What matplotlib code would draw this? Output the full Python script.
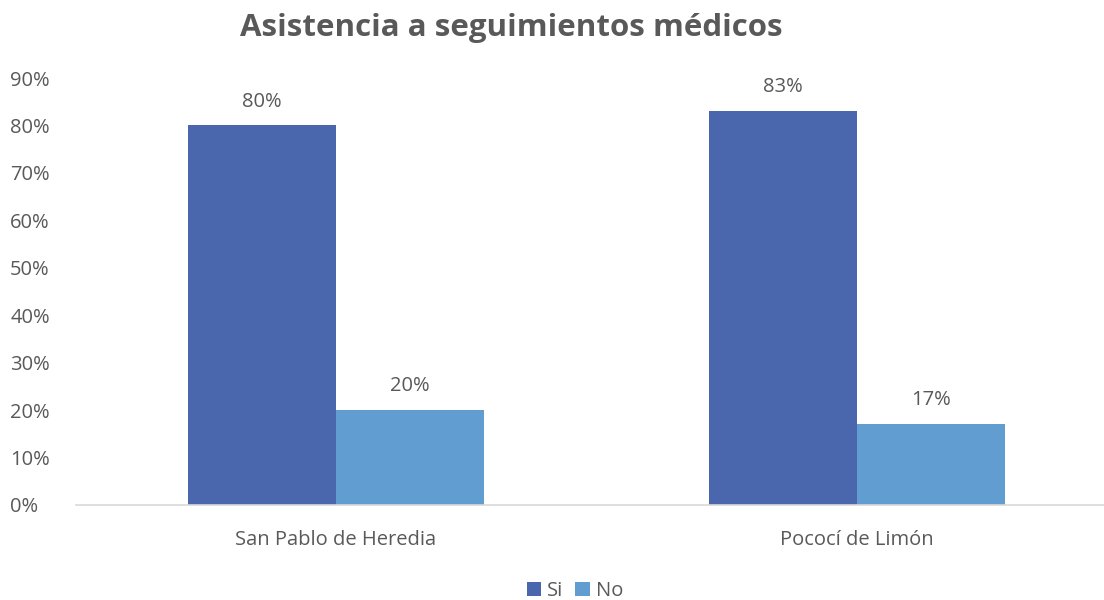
import numpy as np
import matplotlib.pyplot as plt
from matplotlib.ticker import PercentFormatter

lugares = ["San Pablo de Heredia", "Pococí de Limón"]
si = [0.80, 0.83]
no = [0.20, 0.17]
series = ["Si", "No"]
colores = ["#4A66AC", "#629DD1"]
gris = "#595959"

plt.rcParams['font.family'] = ['Open Sans', 'DejaVu Sans']

fig = plt.figure(figsize=(11.04, 6), dpi=100)
ax = fig.add_axes([75.5 / 1104, 1 - 505 / 600, 1 - 75.5 / 1104, (505 - 78) / 600])

x = np.arange(len(lugares))
w = 0.285
b1 = ax.bar(x - w / 2, si, w, color=colores[0], label=series[0])
b2 = ax.bar(x + w / 2, no, w, color=colores[1], label=series[1])

# etiquetas de valor encima de cada barra
for barras in (b1, b2):
    for b in barras:
        v = b.get_height()
        ax.annotate(f"{v:.0%}", (b.get_x() + b.get_width() / 2, v),
                    xytext=(0, 10), textcoords="offset points",
                    ha="center", va="bottom", fontsize=14.5, color=gris)

ax.set_xlim(-0.5, 1.5 - 13.5 / 521)
ax.set_ylim(0, 0.9)
ax.set_yticks(np.arange(0, 0.91, 0.1))
ax.yaxis.set_major_formatter(PercentFormatter(1, decimals=0))
ax.set_xticks(x)
ax.set_xticklabels(lugares)
ax.tick_params(axis="both", length=0, labelsize=14.5, colors=gris)
ax.tick_params(axis="x", pad=18)
ax.tick_params(axis="y", pad=47)
for lbl in ax.get_yticklabels():
    lbl.set_horizontalalignment("left")
for s in ["top", "right", "left"]:
    ax.spines[s].set_visible(False)
ax.spines["bottom"].set_color("#D9D9D9")
ax.spines["bottom"].set_linewidth(1.2)

fig.text(511 / 1104, 1 - 28 / 600, "Asistencia a seguimientos médicos",
         ha="center", va="center", fontsize=22.5, fontweight="bold", color=gris)

fig.legend(loc="center", bbox_to_anchor=(575 / 1104, 1 - 591 / 600), ncol=2,
           frameon=False, fontsize=14.5, labelcolor=gris, handlelength=0.7,
           handleheight=0.7, handletextpad=0.3, columnspacing=0.6)

fig.savefig("out.png", dpi=100)
